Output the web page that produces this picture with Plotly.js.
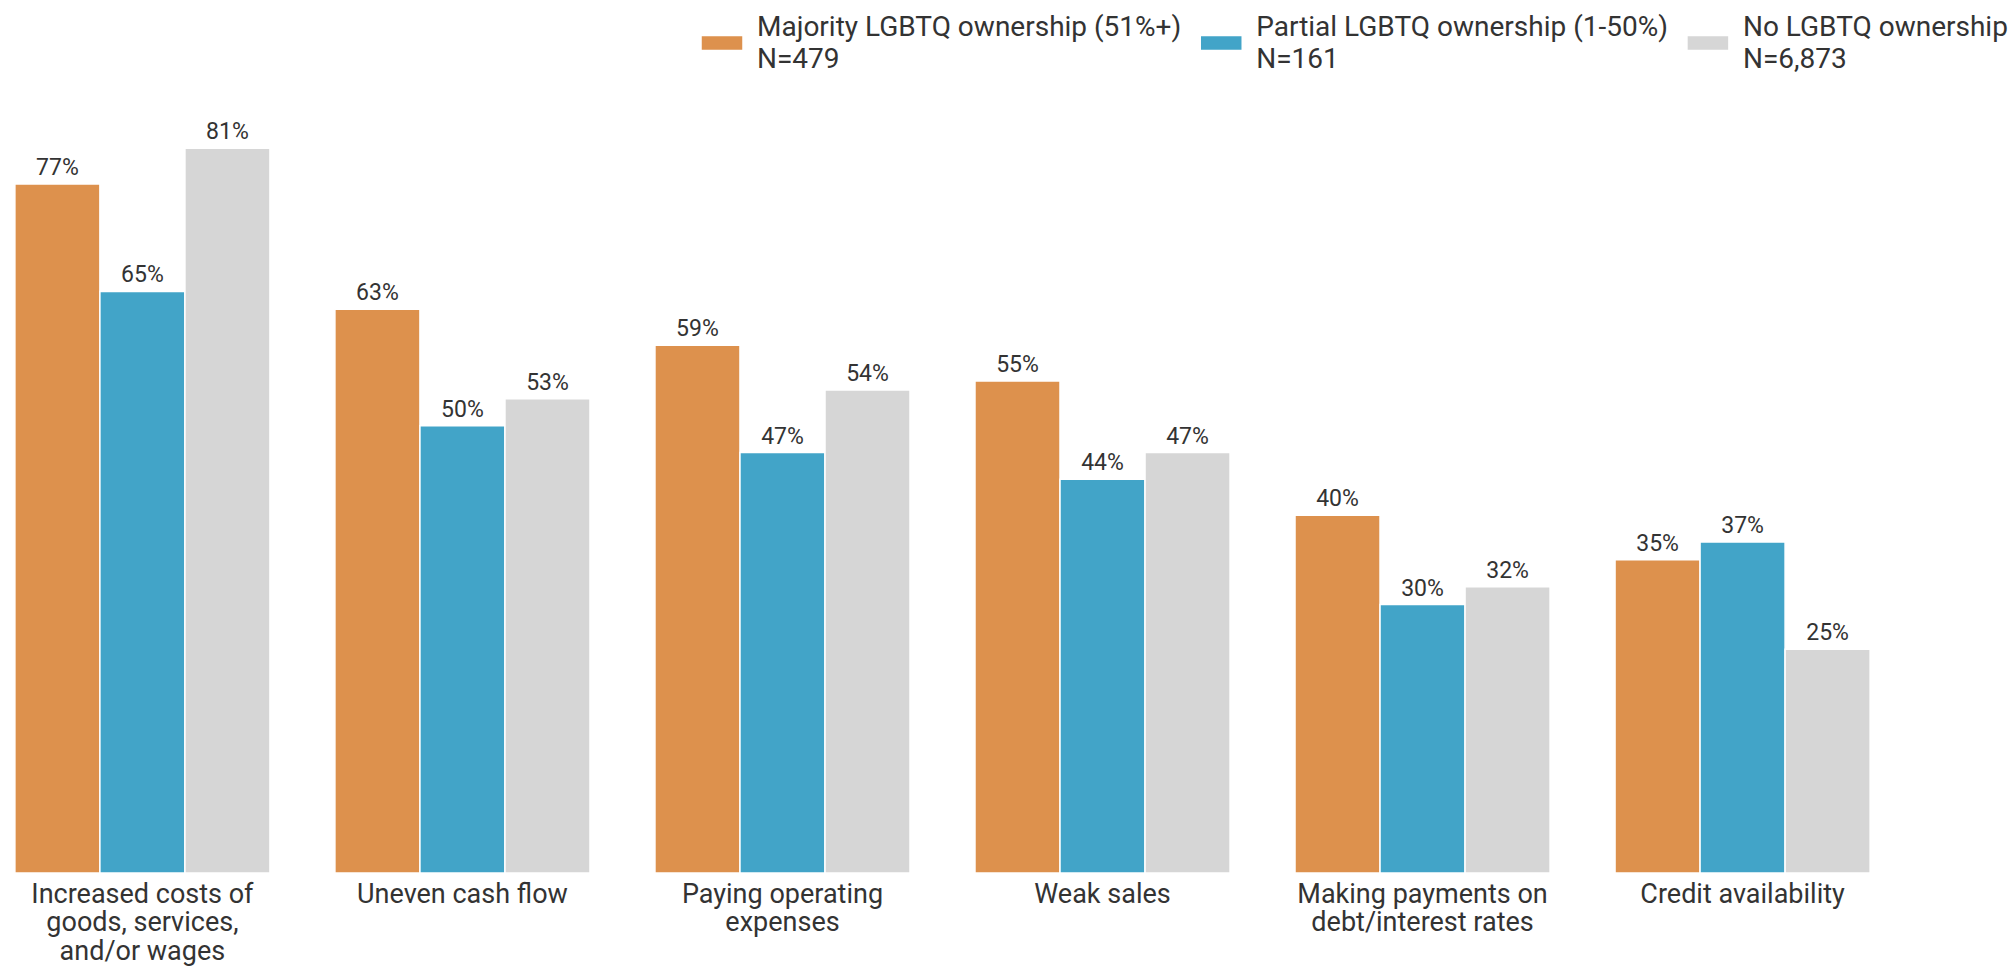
<!DOCTYPE html>
<html>
<head>
<meta charset="utf-8">
<script src="https://cdn.plot.ly/plotly-3.0.1.min.js"></script>
<style>
  html, body { margin: 0; padding: 0; background: #fff; }
  #plot { width: 2013px; height: 968px; }
</style>
</head>
<body>
<div id="plot"></div>
<script>
var categories = [
  "Increased costs of<br>goods, services,<br>and/or wages",
  "Uneven cash flow",
  "Paying operating<br>expenses",
  "Weak sales",
  "Making payments on<br>debt/interest rates",
  "Credit availability"
];
var seriesNames = [
  "Majority LGBTQ ownership (51%+)<br>N=479",
  "Partial LGBTQ ownership (1-50%)<br>N=161",
  "No LGBTQ ownership<br>N=6,873"
];
var majority = [77, 63, 59, 55, 40, 35];
var partial = [65, 50, 47, 44, 30, 37];
var noLgbtq = [81, 53, 54, 47, 32, 25];
var colors = ["#DD914D", "#42A4C8", "#D6D6D6"];

var pltData = document.getElementById("plot");
var allValues = [majority, partial, noLgbtq];

var data = allValues.map(function(vals, i) {
  return {
    type: "bar",
    name: seriesNames[i],
    x: categories,
    y: vals,
    text: vals.map(function(v) { return v + "%"; }),
    textposition: "outside",
    textfont: {family: "Roboto, sans-serif", size: 23, color: "#333"},
    cliponaxis: false,
    marker: {color: colors[i], line: {color: "#fff", width: 1.5}},
    hoverinfo: "skip"
  };
});

var layout = {
  width: 2013,
  height: 968,
  margin: {l: 0, r: 0, t: 100, b: 95},
  paper_bgcolor: "#fff",
  plot_bgcolor: "#fff",
  font: {family: "Roboto, sans-serif", color: "#333"},
  barmode: "group",
  bargap: 0.203,
  bargroupgap: 0,
  showlegend: true,
  legend: {
    orientation: "h",
    xref: "container",
    yref: "container",
    x: 1,
    xanchor: "right",
    y: 1,
    yanchor: "top",
    font: {family: "Roboto, sans-serif", size: 28, color: "#333"},
    itemwidth: 60,
    traceorder: "normal"
  },
  xaxis: {
    type: "category",
    range: [-0.445, 5.845],
    showgrid: false,
    zeroline: false,
    showline: false,
    ticks: "",
    ticklabelstandoff: 2,
    tickfont: {family: "Roboto, sans-serif", size: 27, color: "#333"},
    fixedrange: true
  },
  yaxis: {
    range: [0, 86.4],
    visible: false,
    showgrid: false,
    zeroline: false,
    fixedrange: true
  }
};

// tighter line spacing for multi-line labels
function tightenLines(selector, factor) {
  pltData.querySelectorAll(selector).forEach(function(txt) {
    txt.querySelectorAll("tspan.line").forEach(function(t, i) {
      t.setAttribute("dy", (i * factor) + "em");
    });
  });
}

Plotly.newPlot(pltData, data, layout, {displayModeBar: false, responsive: false}).then(function() {
  tightenLines(".xtick text", 1.05);
  tightenLines(".legendtext", 1.15);
  // wide legend swatches like the original
  pltData.querySelectorAll(".legendpoints path").forEach(function(p) {
    p.setAttribute("d", "M21,7.5H-21V-7.5H21Z");
  });
});
</script>
</body>
</html>
